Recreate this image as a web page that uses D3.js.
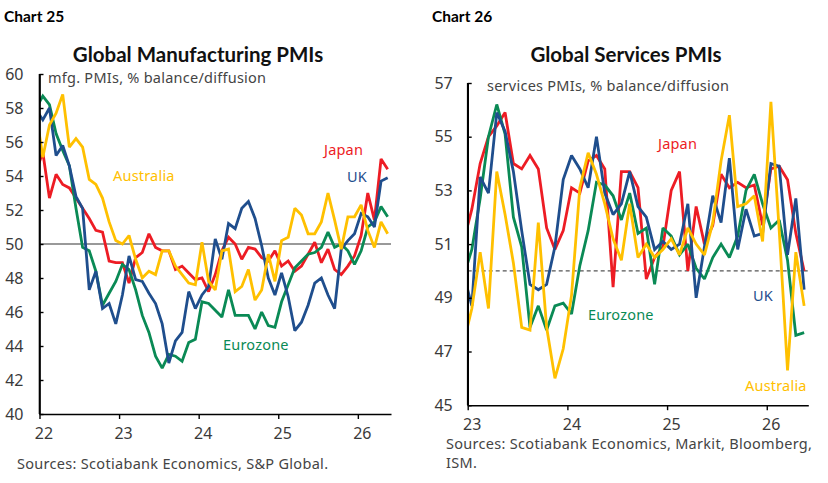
<!DOCTYPE html>
<html><head><meta charset="utf-8">
<script src="https://cdn.jsdelivr.net/npm/d3@7"></script>
<style>
body{margin:0;background:#fff}
text{font-family:"Noto Sans","Open Sans",sans-serif}
</style>
</head><body>
<svg id="c" width="828" height="483"></svg>
<script>
// ---------- DATA ----------
// Manufacturing PMIs, monthly, Dec 2021 .. May 2026
const mfgJapan = [54.3,
 55.4,52.7,54.1,53.5,53.3,52.7,52.1,51.5,50.8,50.7,49.0,48.9,
 48.9,47.7,49.2,49.5,50.6,49.8,49.6,49.6,48.5,48.7,48.3,47.9,
 48.0,47.2,48.2,49.6,50.4,50.0,49.1,49.8,49.7,49.2,49.0,49.6,
 48.7,49.0,48.4,48.7,49.4,50.1,48.9,49.7,48.5,48.2,48.7,49.3,
 50.5,53.0,51.4,55.0,54.4];
const mfgUK = [57.9,
 57.3,58.0,55.2,55.8,54.6,52.8,52.1,47.3,48.4,46.2,46.5,45.3,
 47.0,49.3,47.9,47.8,47.1,46.5,45.3,43.0,44.3,44.8,47.2,46.2,
 47.0,47.5,50.3,49.1,51.2,50.9,52.1,52.5,51.5,49.9,48.0,47.0,
 48.3,46.9,44.9,45.4,46.4,47.7,48.0,47.0,46.2,49.7,50.2,50.6,
 51.8,51.6,51.0,53.7,53.9];
const mfgEurozone = [58.0,
 58.7,58.2,56.5,55.5,54.6,52.1,49.8,49.6,48.4,46.4,47.1,47.8,
 48.8,48.5,47.3,45.8,44.8,43.4,42.7,43.5,43.4,43.1,44.2,44.4,
 46.6,46.5,46.1,45.7,47.3,45.8,45.8,45.8,45.0,46.0,45.2,45.1,
 46.6,47.6,48.6,49.0,49.4,49.5,49.8,50.7,49.8,50.0,49.6,48.8,
 49.6,51.0,51.3,52.2,51.6];
const mfgAustralia = [57.7,
 55.1,57.0,57.7,58.8,55.7,56.2,55.7,53.8,53.5,52.7,51.3,50.2,
 50.0,50.5,49.1,48.0,48.4,48.2,49.6,49.6,48.7,48.2,47.7,47.6,
 50.1,47.8,47.3,49.6,49.7,47.2,47.5,48.5,46.7,47.3,49.4,47.8,
 50.2,50.4,52.1,51.7,50.6,50.6,51.3,53.0,51.4,49.7,51.6,51.6,
 52.3,50.8,49.8,51.3,50.6];

// Services PMIs, monthly, Dec 2022 .. May 2026
const svcJapan = [51.1,
 52.3,54.0,55.0,55.4,55.9,54.0,53.8,54.3,53.8,51.6,50.8,51.5,
 53.1,52.9,54.1,54.3,53.8,49.4,53.7,53.7,53.1,49.7,50.5,50.9,
 53.0,53.7,50.0,52.4,51.0,51.7,53.6,53.1,53.3,53.1,53.2,51.7,
 53.8,53.9,53.4,51.4,50.0];
const svcUK = [49.9,
 48.7,53.5,52.9,55.9,55.2,53.7,51.5,49.5,49.3,49.5,50.9,53.4,
 54.3,53.8,53.1,55.0,52.9,52.1,52.5,53.7,52.4,52.0,50.8,51.1,
 50.8,51.0,52.5,49.0,50.9,52.8,51.8,54.2,50.8,52.3,51.3,51.4,
 54.0,53.9,50.6,52.7,49.3];
const svcEurozone = [49.8,
 50.8,52.7,55.0,56.2,55.1,52.0,50.9,47.9,48.7,47.8,48.7,48.8,
 48.4,50.2,51.5,53.3,53.2,52.8,51.9,52.9,51.4,51.6,49.5,51.6,
 51.3,50.6,51.0,50.1,49.7,50.5,51.0,50.5,51.3,53.0,53.6,52.5,
 51.6,51.9,50.4,47.6,47.7];
const svcAustralia = [47.3,
 48.6,50.7,48.6,53.7,52.1,50.3,47.9,47.8,51.8,47.9,46.0,47.1,
 49.1,53.1,54.4,53.6,52.5,51.2,50.4,52.5,50.5,51.0,50.5,50.8,
 51.2,50.6,51.6,51.0,50.6,51.8,54.1,55.8,52.4,52.5,52.8,51.1,
 56.3,51.5,46.3,50.7,48.7];

const mfgYearLabels = ["22","23","24","25","26"];
const svcYearLabels = ["23","24","25","26"];
const mfgYTicks = [40,42,44,46,48,50,52,54,56,58,60];
const svcYTicks = [45,47,49,51,53,55,57];

const colors = {Japan:"#ED1C24", UK:"#1F4E8D", Eurozone:"#0A8A55", Australia:"#FFC000"};

// ---------- DRAW ----------
const svg = d3.select("#c");
const FONT = "'Noto Sans', 'Open Sans', sans-serif";

function panel(opt){
  const g = svg.append("g");
  const x = d3.scaleLinear().domain([0, opt.months]).range([opt.x0, opt.x1]);
  const y = d3.scaleLinear().domain(opt.yDomain).range([opt.yBottom, opt.yTop]);

  g.append("text").attr("x", opt.labelX).attr("y", 22).attr("font-size", 15.5)
    .style("font-family","Lato, sans-serif")
    .attr("font-weight", 700).attr("fill", "#000").text(opt.chartLabel);
  g.append("text").attr("x", opt.titleX).attr("y", 62).attr("text-anchor","middle")
    .style("font-family","Lato, sans-serif")
    .attr("font-size", 20.5).attr("font-weight", 700).attr("fill","#111").text(opt.title);
  g.append("text").attr("x", opt.subX).attr("y", opt.subY).attr("font-size", 14.5)
    .attr("letter-spacing", 0.25).attr("fill","#444").text(opt.subtitle);

  g.append("line").attr("x1", opt.x0).attr("x2", opt.x1)
    .attr("y1", y(50)).attr("y2", y(50))
    .attr("stroke", opt.dashed ? "#555" : "#777").attr("stroke-width", opt.dashed?1.3:1.6)
    .attr("stroke-dasharray", opt.dashed ? "4,3" : null);

  const cid = "clip" + opt.chartLabel.replace(/\s/g,"");
  svg.append("clipPath").attr("id", cid).append("rect")
    .attr("x", opt.x0).attr("y", 0).attr("width", opt.x1 - opt.x0 + 10).attr("height", 483);

  const line = d3.line().x((d,i)=> x(i - 1 + 0.5)).y(d=> y(d));
  const lg = g.append("g").attr("clip-path", `url(#${cid})`);
  opt.series.forEach(s=>{
    lg.append("path").datum(s.values).attr("d", line).attr("fill","none")
      .attr("stroke", colors[s.name]).attr("stroke-width", 2.8)
      .attr("stroke-linejoin","miter").attr("stroke-miterlimit", 2);
  });

  const yAxis = d3.axisLeft(y).tickValues(opt.yTicks).tickSize(-4).tickSizeOuter(0)
    .tickPadding(opt.yPad).tickFormat(d3.format("d"));
  const ya = g.append("g").attr("transform", `translate(${opt.x0},0)`).call(yAxis);
  const xAxis = d3.axisBottom(x).tickValues(opt.yearLabels.map((d,i)=>i*12))
    .tickSize(5).tickSizeOuter(0).tickPadding(opt.xPad)
    .tickFormat((d,i)=>opt.yearLabels[i]);
  const xa = g.append("g").attr("transform", `translate(0,${opt.yBottom})`).call(xAxis);
  [ya, xa].forEach(a=>{
    a.selectAll("path").attr("stroke","#000").attr("stroke-width",1.6);
    a.selectAll("line").attr("stroke","#000").attr("stroke-width",1.4);
    a.selectAll("text").attr("font-size",16).attr("fill","#3a3a3a").style("font-family",FONT);
  });
  xa.selectAll("text").attr("dx", 4);
  g.append("line").attr("x1", opt.x0).attr("x2", opt.x0)
    .attr("y1", opt.yTop).attr("y2", opt.yBottom).attr("stroke","#000").attr("stroke-width",1.6);

  opt.labels.forEach(l=>{
    g.append("text").attr("x", l.x).attr("y", l.y).attr("font-size", 14.5)
      .attr("letter-spacing", 0.2).attr("fill", colors[l.name]).text(l.name);
  });
  opt.sources.forEach((s,i)=>{
    g.append("text").attr("x", opt.srcX).attr("y", opt.srcY + i*18.5)
      .attr("font-size", 14.5).attr("letter-spacing", 0.3).attr("fill","#444").text(s);
  });
}

panel({
  chartLabel:"Chart 25", labelX:4, title:"Global Manufacturing PMIs", titleX:198,
  subtitle:"mfg. PMIs, % balance/diffusion", subX:48, subY:83,
  months:53, x0:39.5, x1:391, yDomain:[40,60], yBottom:414, yTop:74,
  yTicks:mfgYTicks, yearLabels:mfgYearLabels, yPad:16, xPad:9, dashed:false,
  series:[{name:"Japan",values:mfgJapan},{name:"Eurozone",values:mfgEurozone},
          {name:"UK",values:mfgUK},{name:"Australia",values:mfgAustralia}],
  labels:[{name:"Australia",x:113,y:181},{name:"Japan",x:324,y:155},
          {name:"UK",x:347,y:182},{name:"Eurozone",x:223,y:350}],
  sources:["Sources: Scotiabank Economics, S&P Global."], srcX:17, srcY:469
});

panel({
  chartLabel:"Chart 26", labelX:432, title:"Global Services PMIs", titleX:626,
  subtitle:"services PMIs, % balance/diffusion", subX:487, subY:91,
  months:41, x0:467.7, x1:808.3, yDomain:[45,57], yBottom:405.2, yTop:83,
  yTicks:svcYTicks, yearLabels:svcYearLabels, yPad:15, xPad:8, dashed:true,
  series:[{name:"Japan",values:svcJapan},{name:"Eurozone",values:svcEurozone},
          {name:"UK",values:svcUK},{name:"Australia",values:svcAustralia}],
  labels:[{name:"Japan",x:658,y:149},{name:"UK",x:753,y:301},
          {name:"Eurozone",x:588,y:320},{name:"Australia",x:745,y:391}],
  sources:["Sources: Scotiabank Economics, Markit, Bloomberg,","ISM."], srcX:446, srcY:449
});
</script>
</body></html>
